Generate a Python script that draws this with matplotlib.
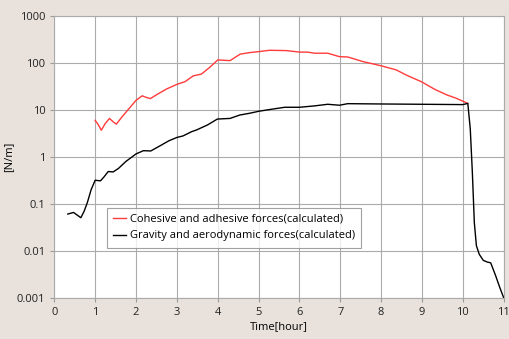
import matplotlib
matplotlib.use("Agg")
import matplotlib.pyplot as plt
import numpy as np

# Cohesive and adhesive forces (calculated)
red_t = [1.00, 1.08, 1.15, 1.25, 1.35, 1.45, 1.52, 1.65, 1.80, 2.00, 2.15, 2.25, 2.35, 2.50,
         2.75, 3.00, 3.20, 3.40, 3.60, 3.80, 4.00, 4.15, 4.30, 4.55, 4.78, 5.00, 5.27,
         5.68, 6.00, 6.20, 6.37, 6.69, 6.98, 7.18, 7.55, 8.00, 8.37, 8.62, 8.98, 9.31,
         9.60, 9.84, 10.12]
red_v = [6.0, 4.8, 3.7, 5.2, 6.6, 5.5, 5.0, 7.0, 10.0, 16.0, 20.0, 18.5, 17.4, 21.0,
         28.0, 35.0, 40.0, 53.0, 58.0, 80.0, 116.0, 114.0, 112.0, 154.0, 166.0, 174.0, 186.0,
         183.0, 170.0, 170.0, 161.0, 161.0, 136.0, 134.0, 107.0, 87.0, 71.0, 55.0, 40.0, 27.5,
         21.0, 17.7, 13.8]

# Gravity and aerodynamic forces (calculated)
blk_t = [0.33, 0.47, 0.56, 0.65, 0.73, 0.81, 0.90, 1.00, 1.13, 1.22, 1.32, 1.44, 1.57, 1.75,
         2.00, 2.18, 2.36, 2.60, 2.80, 3.00, 3.15, 3.36, 3.48, 3.75, 3.99, 4.30, 4.54,
         4.78, 5.01, 5.30, 5.64, 6.00, 6.37, 6.69, 6.98, 7.18, 8.00, 9.00, 10.00, 10.12,
         10.18, 10.23, 10.28, 10.33, 10.40, 10.50, 10.60, 10.68, 10.80, 10.90, 11.00]
blk_v = [0.061, 0.066, 0.058, 0.051, 0.070, 0.108, 0.20, 0.32, 0.31, 0.38, 0.49, 0.48, 0.57, 0.80,
         1.16, 1.36, 1.34, 1.75, 2.2, 2.6, 2.8, 3.45, 3.75, 4.8, 6.4, 6.6, 7.8,
         8.5, 9.4, 10.3, 11.4, 11.4, 12.2, 13.2, 12.6, 13.6, 13.4, 13.2, 13.0, 13.8,
         4.0, 0.5, 0.04, 0.013, 0.0085, 0.0063, 0.0058, 0.0056, 0.0030, 0.0017, 0.0010]

x_ticks = list(range(0, 12))
y_ticks = [0.001, 0.01, 0.1, 1, 10, 100, 1000]
y_tick_labels = ["0.001", "0.01", "0.1", "1", "10", "100", "1000"]

plt.rcParams['font.family'] = ['Open Sans', 'DejaVu Sans']

bg = '#e9e2dc'
fig = plt.figure(figsize=(5.09, 3.39), dpi=100, facecolor=bg)
ax = fig.add_axes([0.1067, 0.121, 0.883, 0.832])
ax.set_facecolor('white')

ax.plot(red_t, red_v, color='#ff3b3b', lw=1.0, label='Cohesive and adhesive forces(calculated)')
ax.plot(blk_t, blk_v, color='#000000', lw=1.0, label='Gravity and aerodynamic forces(calculated)')

ax.set_yscale('log')
ax.set_xlim(0, 11)
ax.set_ylim(0.001, 1000)
ax.set_xticks(x_ticks)
ax.set_yticks(y_ticks)
ax.set_yticklabels(y_tick_labels)
ax.minorticks_off()
ax.grid(True, color='#ababab', lw=0.8)
ax.set_axisbelow(True)
for s in ax.spines.values():
    s.set_color('#ababab')
    s.set_linewidth(0.8)
ax.tick_params(axis='both', labelsize=8, length=3, width=0.8, colors='#222222')
ax.tick_params(axis='both', color='#9a9a9a')

ax.set_xlabel('Time[hour]', fontsize=8, labelpad=2)
ax.set_ylabel('[N/m]', fontsize=8, labelpad=2)

leg = ax.legend(loc='upper left', bbox_to_anchor=(0.117, 0.32), fontsize=8,
                handlelength=1.2, handletextpad=0.3, frameon=True, fancybox=False,
                borderpad=0.55, labelspacing=0.5, borderaxespad=0)
leg.get_frame().set_edgecolor('#8a8a8a')
leg.get_frame().set_linewidth(0.8)

fig.savefig('out.png', dpi=100, facecolor=bg)
